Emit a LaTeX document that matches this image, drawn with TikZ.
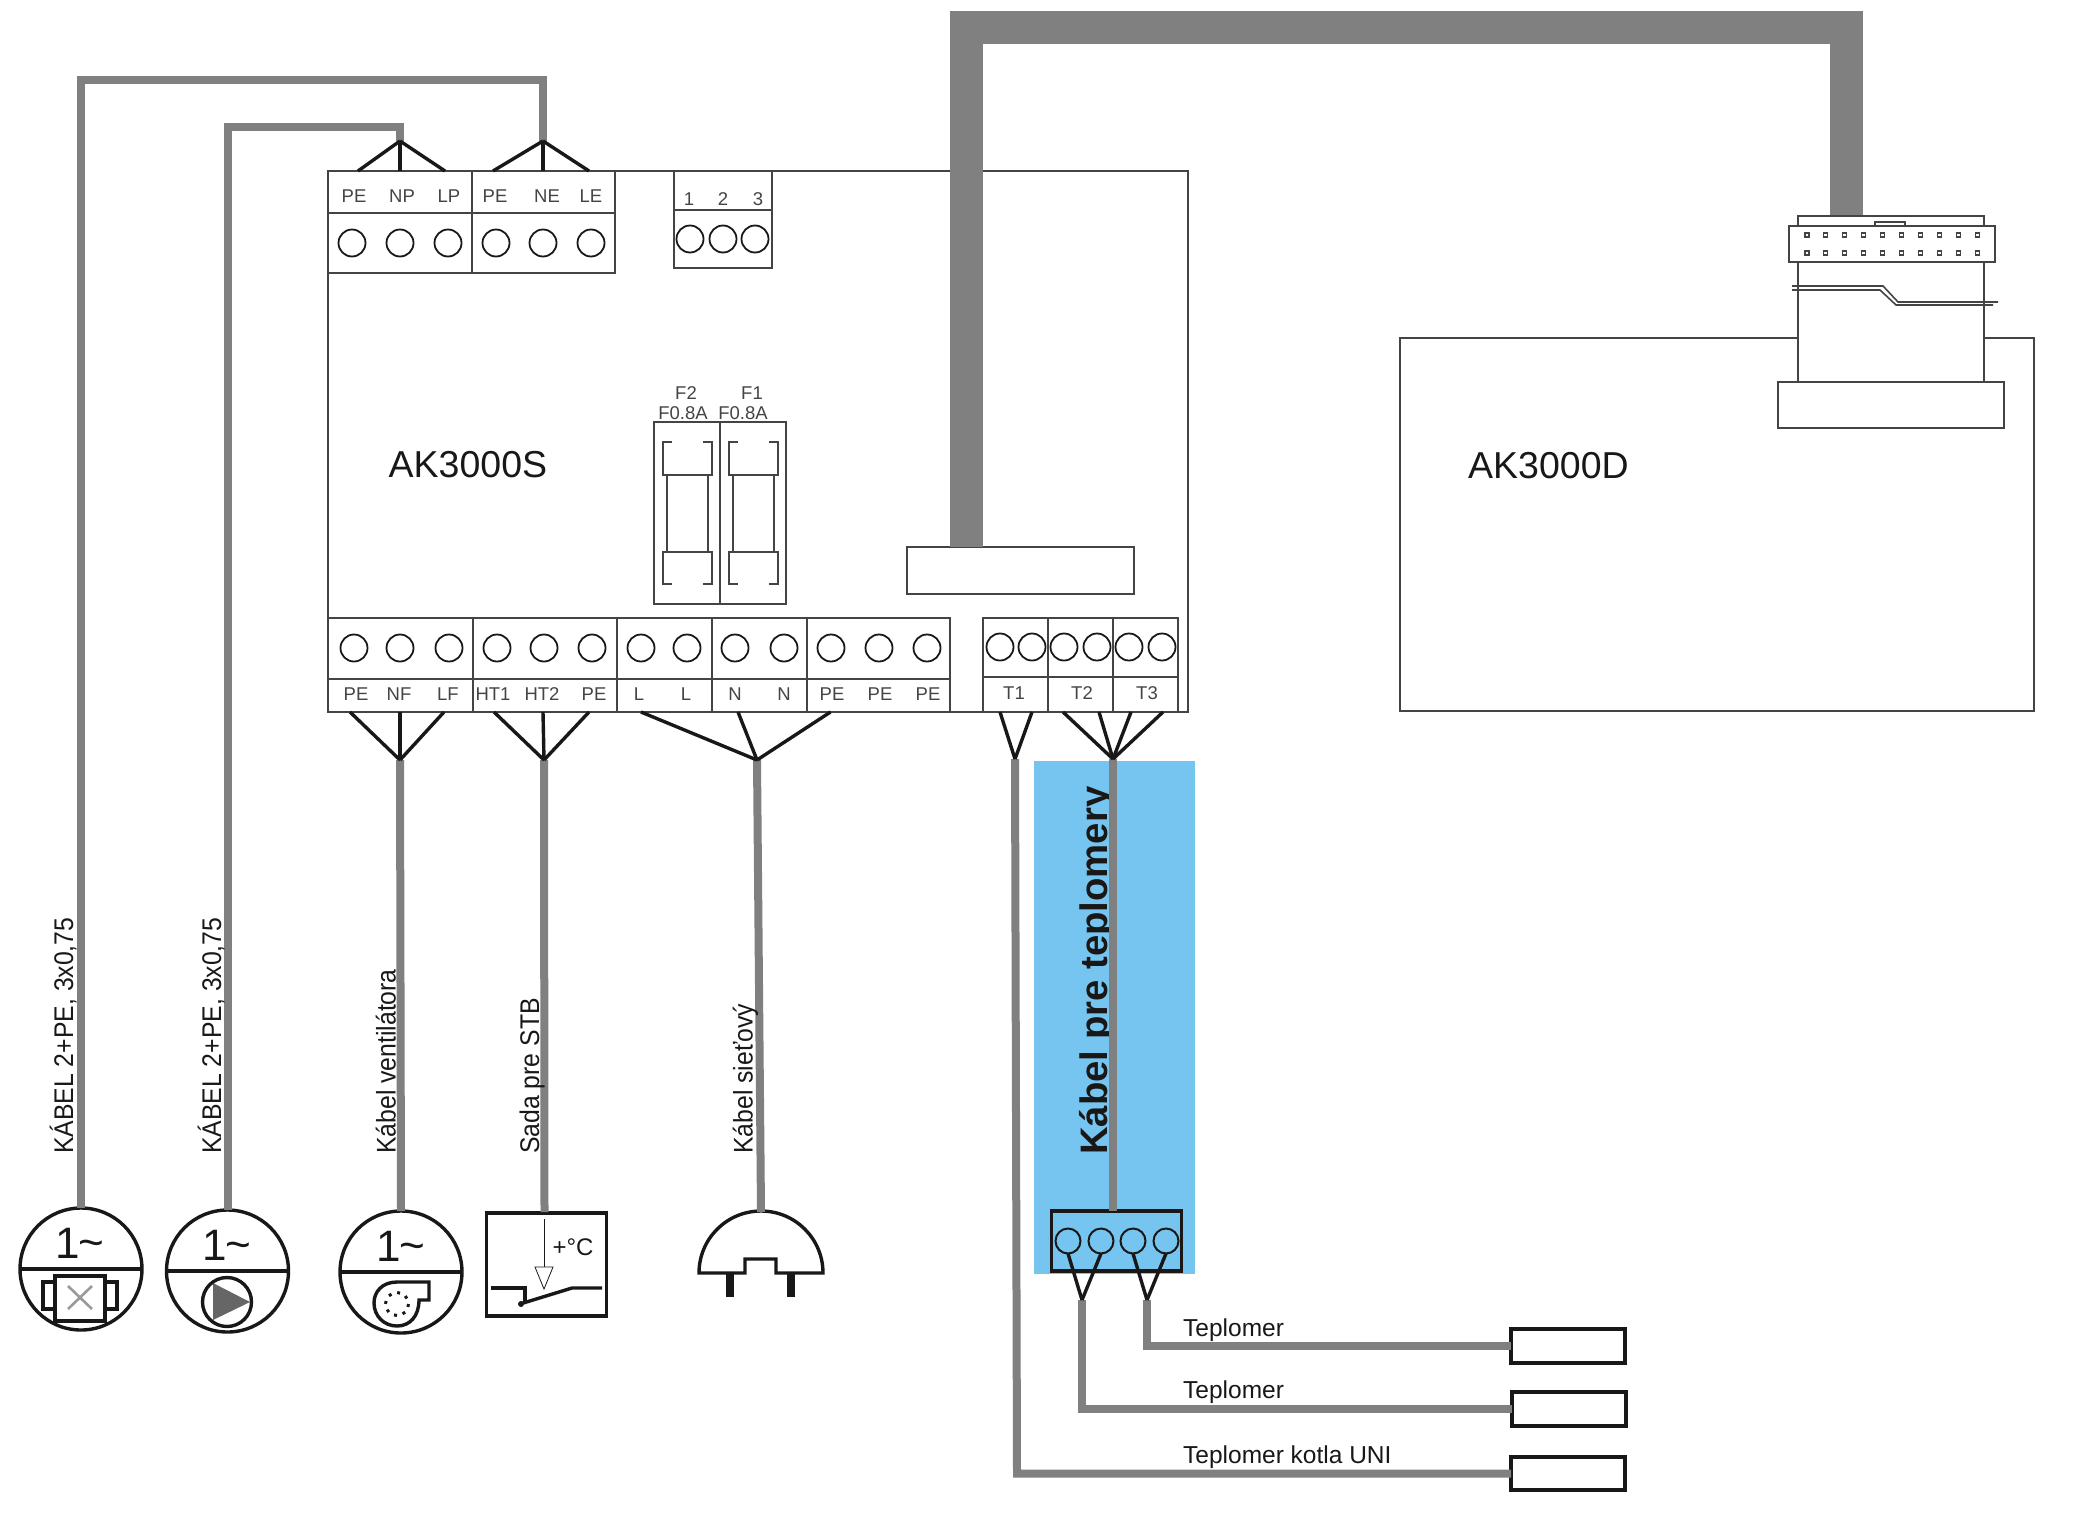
\documentclass[tikz,border=0pt]{standalone}
\usepackage{fontspec}
\setmainfont{Liberation Sans}
\definecolor{cablegrey}{HTML}{808080}
\definecolor{ink}{HTML}{1A1717}
\definecolor{bluepanel}{HTML}{76C5F0}
\definecolor{frameline}{HTML}{444444}
\newcommand{\fs}[1]{\fontsize{#1}{#1}\selectfont}
\tikzset{
  cable/.style={draw=cablegrey,line width=8pt},
  thickcable/.style={draw=cablegrey,line width=33pt},
  wire/.style={draw=ink,line width=3.4pt},
  frame/.style={draw=frameline,line width=2pt},
  heavy/.style={draw=ink,line width=3.4pt},
  term/.style={draw=ink,circle,line width=1.8pt,minimum size=27pt,inner sep=0pt,outer sep=0pt},
  tlabel/.style={text=frameline,inner sep=0pt,font=\fs{18.5}},
  caption/.style={text=ink,inner sep=0pt,rotate=90,xscale=.918,transform shape,anchor=base west,font=\fs{27}},
  flat/.style={text=ink,inner sep=0pt,anchor=base west,font=\fs{24.5}},
  big/.style={text=ink,inner sep=0pt,font=\fs{37.5}},
  motor/.style={draw=ink,circle,line width=3.4pt,minimum size=122pt,inner sep=0pt,outer sep=0pt},
  sensor/.style={draw=ink,line width=3.6pt,fill=white,minimum width=114pt,minimum height=33.5pt,inner sep=0pt,outer sep=0pt},
  box/.style={frame,fill=white,inner sep=0pt,outer sep=0pt},
}
\begin{document}
\begin{tikzpicture}[x=1pt,y=-1pt,line join=miter]
\useasboundingbox (0,0) rectangle (2095,1523);

% ---- blue panel and its bold text (the cable runs over the text)
\fill[bluepanel] (1034,761) rectangle (1195,1274);
\node[text=ink,inner sep=0pt,rotate=90,anchor=base west,font=\bfseries\fs{38.3}] (kabelT) at (1107,1155) {Kábel pre teplomery};

% ---- main board frame
\node[box,fill=none,minimum width=860pt,minimum height=541pt] (board) at (758,441.5) {};
% ---- AK3000D
\draw[frame] (1798,338) -- (1400,338) -- (1400,711) -- (2034,711) -- (2034,338) -- (1984,338);
\draw[frame] (1798,262) -- (1798,382) (1984,262) -- (1984,382);
\draw[frame] (1778,382) rectangle (2004,428);
\draw[frame] (1798,226) -- (1798,216) -- (1984,216) -- (1984,226);
\draw[frame] (1789,226) rectangle (1995,262);
\draw[frame,line width=1.4pt] (1875,222) rectangle (1905,226);
\foreach \i in {0,...,9}{
  \foreach \y in {235,253}{
    \draw[frame,line width=1.1pt] ({1807+18.9*\i-2},\y-2) rectangle ++(4,4);
  }
}
\draw[frame,line width=1.6pt] (1792,286) -- (1883,286) -- (1898,302) -- (1998,302);
\draw[frame,line width=1.6pt] (1792,290) -- (1880,290) -- (1896,305) -- (1993,305);

% ---- top terminal blocks
\draw[frame] (328,171) rectangle (615,273);
\draw[frame] (328,213) -- (615,213) (472,171) -- (472,273);
\draw[frame] (674,171) -- (674,268) -- (772,268) -- (772,171) (674,210) -- (772,210);
\foreach \n/\x in {ta1/352,ta2/400,ta3/448,ta4/496,ta5/543,ta6/591}{
  \node[term] (\n) at (\x,243) {};
}
\foreach \n/\x in {tb1/690,tb2/723,tb3/755}{
  \node[term] (\n) at (\x,239) {};
}
\foreach \n/\x/\t in {la1/354/PE,la2/402/NP,la3/449/LP,la4/495/PE,la5/547/NE,la6/591/LE}{
  \node[tlabel] (\n) at (\x,196) {\t};
}
\foreach \n/\x/\t in {lb1/689/1,lb2/723/2,lb3/758/3}{
  \node[tlabel] (\n) at (\x,199) {\t};
}

% ---- bottom terminal blocks
\draw[frame] (328,618) -- (950,618) -- (950,712);
\draw[frame] (328,679) -- (950,679);
\foreach \x in {473,617,712,807}{ \draw[frame] (\x,618) -- (\x,712); }
\foreach \n/\x in {ba1/354,ba2/400,ba3/449,ba4/497,ba5/544,ba6/592,ba7/641,ba8/687,ba9/735,ba10/784,ba11/831,ba12/879,ba13/927}{
  \node[term] (\n) at (\x,648) {};
}
\foreach \n/\x/\t in {lc1/356/PE,lc2/399/NF,lc3/448/LF,lc4/493/HT1,lc5/542/HT2,lc6/594/PE,lc7/639/L,lc8/686/L,lc9/735/N,lc10/784/N,lc11/832/PE,lc12/880/PE,lc13/928/PE}{
  \node[tlabel] (\n) at (\x,694) {\t};
}
\draw[frame] (983,618) rectangle (1178,712);
\draw[frame] (983,677) -- (1178,677) (1048,618) -- (1048,712) (1113,618) -- (1113,712);
\foreach \n/\x in {bt1/1000,bt2/1032,bt3/1064,bt4/1097,bt5/1129,bt6/1162}{
  \node[term] (\n) at (\x,647) {};
}
\foreach \n/\x/\t in {ld1/1014/T1,ld2/1082/T2,ld3/1147/T3}{
  \node[tlabel] (\n) at (\x,693) {\t};
}

% ---- fuses
\foreach \dx/\lab/\lx/\vx in {0/F2/686/683,66/F1/752/743}{
  \begin{scope}[xshift=\dx pt]
    \draw[frame,line width=1.8pt] (654,422) rectangle (720,604);
    \draw[frame,line width=1.5pt] (672,442) -- (663,442) -- (663,475) -- (712,475) -- (712,442) -- (703,442);
    \draw[frame,line width=1.5pt] (672,584) -- (663,584) -- (663,552) -- (712,552) -- (712,584) -- (703,584);
    \draw[frame,line width=1.5pt] (667,475) -- (667,552) (708,475) -- (708,552);
  \end{scope}
  \node[tlabel] (fuse\lab) at (\lx,393) {\lab};
  \node[tlabel] (rate\lab) at (\vx,413) {F0.8A};
}

% ---- connector on the board and labels
\node[box,minimum width=227pt,minimum height=47pt] (conn) at (1020.5,570.5) {};
\node[big,anchor=west] (ak3000s) at (388.5,465) {AK3000S};
\node[big,anchor=west] (ak3000d) at (1468,466) {AK3000D};

% ---- devices
\node[motor] (m1) at (81,1269) {};
\node[motor] (m2) at (227.5,1271) {};
\node[motor] (m3) at (401,1272) {};
\draw[heavy] (m1.west) -- (m1.east);
\draw[heavy] (m2.west) -- (m2.east);
\draw[heavy] (m3.west) -- (m3.east);
\node[text=ink,inner sep=0pt,font=\fs{44}] (t1) at (80,1243) {1\kern-1pt\raisebox{1pt}{\char`~}};
\node[text=ink,inner sep=0pt,font=\fs{44}] (t2) at (227,1245) {1\kern-1pt\raisebox{1pt}{\char`~}};
\node[text=ink,inner sep=0pt,font=\fs{44}] (t3) at (401,1246) {1\kern-1pt\raisebox{1pt}{\char`~}};
% valve
\draw[heavy] (55,1276) rectangle (105,1321);
\draw[heavy] (55,1282) -- (43,1282) -- (43,1309) -- (55,1309);
\draw[heavy] (105,1282) -- (117,1282) -- (117,1309) -- (105,1309);
\draw[draw=black!40,line width=2.6pt] (68,1286) -- (92,1309) (92,1286) -- (68,1309);
% pump
\fill[black!60] (213,1283) -- (250,1302) -- (213,1320) -- cycle;
\draw[heavy] (227,1302) circle (24.5);
% fan
\draw[heavy] (429,1300) -- (429,1282) -- (397,1282)
  .. controls (382,1282) and (374,1292) .. (374,1303)
  .. controls (374,1316) and (384,1326) .. (397,1326)
  .. controls (410,1326) and (419,1316) .. (419,1300) -- cycle;
\draw[draw=ink,line width=3pt,dash pattern=on 3pt off 6pt] (397,1304) circle (11.5);
% thermostat
\node[draw=ink,line width=3.4pt,minimum width=120pt,minimum height=103pt,inner sep=0pt,outer sep=0pt] (stb) at (546.5,1264.5) {};
\coordinate (stbtop) at (544.5,1212);
\draw[ink,line width=.8pt] (544,1219) -- (544,1267);
\draw[ink,line width=.8pt] (535,1267) -- (553,1267) -- (544,1289) -- cycle;
\node[text=ink,inner sep=0pt,font=\fs{24}] (temp) at (573,1247) {+°C};
\draw[heavy] (491,1288) -- (525,1288) -- (525,1303);
\draw[heavy] (520,1304) -- (572,1288) -- (602,1288);
\fill[ink] (521,1304) circle (3);
% plug
\coordinate (plugtop) at (761,1212);
\draw[heavy] (699,1273) arc[start angle=180,end angle=360,radius=62] -- (776,1273) -- (776,1259) -- (745,1259) -- (745,1273) -- cycle;
\fill[ink] (726,1273) rectangle (734,1297);
\fill[ink] (787,1273) rectangle (795,1297);

% ---- connector block in the blue panel
\node[draw=ink,line width=3.4pt,minimum width=130pt,minimum height=60pt,inner sep=0pt,outer sep=0pt] (cbox) at (1116.5,1241) {};
\foreach \n/\x in {c1/1068,c2/1101,c3/1133,c4/1166}{
  \node[draw=ink,circle,line width=2pt,minimum size=25pt,inner sep=0pt,outer sep=0pt] (\n) at (\x,1241) {};
}

% ---- sensors
\node[sensor] (s1) at (1568,1346) {};
\node[sensor] (s2) at (1569,1409) {};
\node[sensor] (s3) at (1568,1473.5) {};
\node[flat] (ts1) at (1183,1336) {Teplomer};
\node[flat] (ts2) at (1183,1398) {Teplomer};
\node[flat] (ts3) at (1183,1463) {Teplomer kotla UNI};

% ---- junction points
\coordinate (jNP) at (400,141);
\coordinate (jNE) at (543,141);
\coordinate (jF) at (400,760);
\coordinate (jH) at (544,760);
\coordinate (jM) at (757,760);
\coordinate (jT1) at (1015,759);
\coordinate (jT) at (1113,759);
\coordinate (jC1) at (1082,1300);
\coordinate (jC2) at (1147,1300);

% ---- grey cables
\draw[cable] (m1.north) -- (81,80) -- (543,80) -- (jNE);
\draw[cable] (m2.north) -- (227.5,127) -- (400,127) -- (jNP);
\draw[cable] (m3.north) -- (jF);
\draw[cable] (stbtop) -- (jH);
\draw[cable] (plugtop) -- (jM);
\draw[cable] (jT) -- (cbox.north-|jT);
\draw[cable] (jC2) |- (s1.west);
\draw[cable] (jC1) |- (s2.west);
\draw[cable] (jT1) -- (1017,1473.5) -- (s3.west);
\draw[thickcable] (conn.north-|966.5,0) -- (966.5,27.5) -- (1846,27.5) -- (1846,215);

% ---- black fan-outs
\foreach \x in {358,400,445}{ \draw[wire] (\x,171) -- (jNP); }
\foreach \x in {493,543,589}{ \draw[wire] (\x,171) -- (jNE); }
\foreach \x in {350,400,444}{ \draw[wire] (\x,712) -- (jF); }
\foreach \x in {494,543,589}{ \draw[wire] (\x,712) -- (jH); }
\foreach \x in {641,738,830.5}{ \draw[wire] (\x,712) -- (jM); }
\foreach \x in {1000,1032}{ \draw[wire] (\x,712) -- (jT1); }
\foreach \x in {1063,1099,1131,1163}{ \draw[wire] (\x,712) -- (jT); }
\draw[wire] (c1.south) -- (jC1);
\draw[wire] (c2.south) -- (jC1);
\draw[wire] (c3.south) -- (jC2);
\draw[wire] (c4.south) -- (jC2);

% ---- captions
\node[caption] (cap1) at (73,1154) {KÁBEL 2+PE, 3x0,75};
\node[caption] (cap2) at (221,1154) {KÁBEL 2+PE, 3x0,75};
\node[caption] (cap3) at (395.5,1154) {Kábel ventilátora};
\node[caption] (cap4) at (539,1154) {Sada pre STB};
\node[caption] (cap5) at (752.5,1154) {Kábel sieťový};
\end{tikzpicture}
\end{document}
